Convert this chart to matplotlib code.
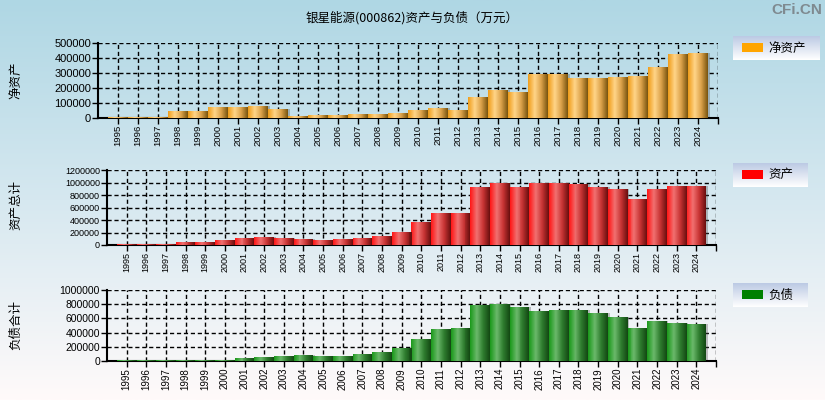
import matplotlib
matplotlib.use("Agg")
import matplotlib.pyplot as plt
import numpy as np
from matplotlib.colors import LinearSegmentedColormap

plt.rcParams['font.family'] = ['Liberation Sans', 'Noto Sans CJK SC', 'DejaVu Sans']

# 数据（万元）
years = [str(y) for y in range(1995, 2025)]
net_assets = [5000, 4000, 4000, 46000, 46000, 73000, 73000, 80000, 60000, 13000,
              20000, 20000, 26500, 26500, 33000, 53000, 66000, 53000, 139000, 186000,
              172500, 292000, 292000, 265000, 265000, 272000, 279000, 338000, 425000, 431000]
total_assets = [21000, 21000, 21000, 53000, 53000, 85000, 117000, 133000, 117000, 101000,
                85000, 101000, 117000, 149000, 213000, 373000, 517000, 517000, 933000, 997000,
                933000, 997000, 997000, 981000, 933000, 901000, 741000, 901000, 949000, 949000]
liabilities = [14000, 14000, 14000, 14000, 14000, 14000, 42000, 56000, 70000, 85000,
               70000, 70000, 99000, 127000, 183000, 310000, 451000, 465000, 789000, 803000,
               761000, 704000, 718000, 718000, 676000, 620000, 465000, 563000, 535000, 521000]

fig = plt.figure(figsize=(8.25, 4.0), dpi=100)

# 背景渐变
bg = fig.add_axes([0, 0, 1, 1], zorder=-10)
bg_cmap = LinearSegmentedColormap.from_list("bg", [(0.0, "#afd7e4"), (0.5, "#d6e8f0"), (1.0, "#fffafa")])
bg.imshow(np.linspace(0, 1, 256).reshape(-1, 1), cmap=bg_cmap, aspect="auto", extent=(0, 1, 0, 1))
bg.set_axis_off()

gold = LinearSegmentedColormap.from_list("gold", ["#f0a020", "#ffd488", "#dca24a", "#7d5812"])
red = LinearSegmentedColormap.from_list("red", ["#ff1a1a", "#f07070", "#c83434", "#6e1010"])
green = LinearSegmentedColormap.from_list("green", ["#1e9a1e", "#6ab86a", "#2f7d2f", "#144a14"])

panels = [
    # 位置, 数据, 颜色, y上限, 步长, y标签, 图例, 图例色, 字号...
    ([98 / 825, 282 / 400, 620 / 825, 75 / 400], net_assets, gold, 500000, 100000,
     "净资产", "净资产", "#ffa500", 8, 6.8, 80, [733, 36, 87, 24]),
    ([107 / 825, 155 / 400, 609 / 825, 75 / 400], total_assets, red, 1200000, 200000,
     "资产总计", "资产", "#ff0000", 6.5, 6.5, 205, [733, 163, 75, 24]),
    ([107 / 825, 39 / 400, 609 / 825, 71 / 400], liabilities, green, 1000000, 200000,
     "负债合计", "负债", "#008000", 7.5, 7.0, 325, [733, 283, 75, 24]),
]

n_strip = 20
x = np.arange(len(years))

for rect, vals, cmap, ymax, step, ylab, leg, legc, yfs, xfs, ylab_y, lrect in panels:
    ax = fig.add_axes(rect)
    ax.patch.set_alpha(0)
    # 阴影
    ax.bar(x + 0.08, vals, width=1.0, color="#555555", alpha=0.35, lw=0, zorder=2)
    # 圆柱渐变：每根柱子切成竖条
    for k in range(n_strip):
        off = -0.5 + (k + 0.5) / n_strip
        ax.bar(x + off, vals, width=1.0 / n_strip * 1.08, color=cmap(k / (n_strip - 1)),
               lw=0, zorder=3)
    ax.set_xlim(-1, len(years))
    ax.set_ylim(0, ymax)
    ax.set_xticks(np.arange(len(years) + 1))
    ax.set_xticklabels(years + [""], rotation=90, fontsize=xfs)
    ax.set_yticks(np.arange(0, ymax + 1, step))
    ax.set_yticklabels([str(v) for v in range(0, ymax + 1, step)], fontsize=yfs)
    ax.grid(True, color="black", linestyle=(0, (3, 2)), linewidth=1, zorder=1)
    ax.yaxis.get_gridlines()[0].set_visible(False)
    ax.set_axisbelow(True)
    for s in ["top", "right"]:
        ax.spines[s].set_visible(False)
    ax.spines["left"].set_linewidth(1.5)
    ax.spines["bottom"].set_linewidth(1.5)
    ax.tick_params(length=4, width=1, pad=1)
    fig.text(16 / 825, 1 - ylab_y / 400, ylab, rotation=90, fontsize=9,
             ha="center", va="center", family=["Noto Sans CJK SC"])

    # 图例
    lx, ly, lw, lh = lrect
    lax = fig.add_axes([lx / 825, 1 - (ly + lh) / 400, lw / 825, lh / 400])
    leg_cmap = LinearSegmentedColormap.from_list("lg", ["#bccae4", "#ffffff"])
    lax.imshow(np.linspace(0, 1, 64).reshape(-1, 1), cmap=leg_cmap, aspect="auto", extent=(0, 1, 0, 1))
    lax.set_xlim(0, 1)
    lax.set_ylim(0, 1)
    lax.add_patch(plt.Rectangle((9 / lw, 8 / lh), 21 / lw, 9 / lh, color=legc, lw=0))
    lax.text(35 / lw, 0.5, leg, fontsize=9, va="center", ha="left", family=["Noto Sans CJK SC"])
    lax.set_axis_off()

fig.text(412 / 825, 1 - 18 / 400, "银星能源(000862)资产与负债（万元）", fontsize=9,
         ha="center", va="center", family=["Noto Sans CJK SC"])
fig.text(822 / 825, 1 - 10 / 400, "CFi.CN", fontsize=11, fontweight="bold", color="#7f8a90",
         ha="right", va="center", family=["Liberation Sans"])

fig.savefig("out.png", dpi=100)
